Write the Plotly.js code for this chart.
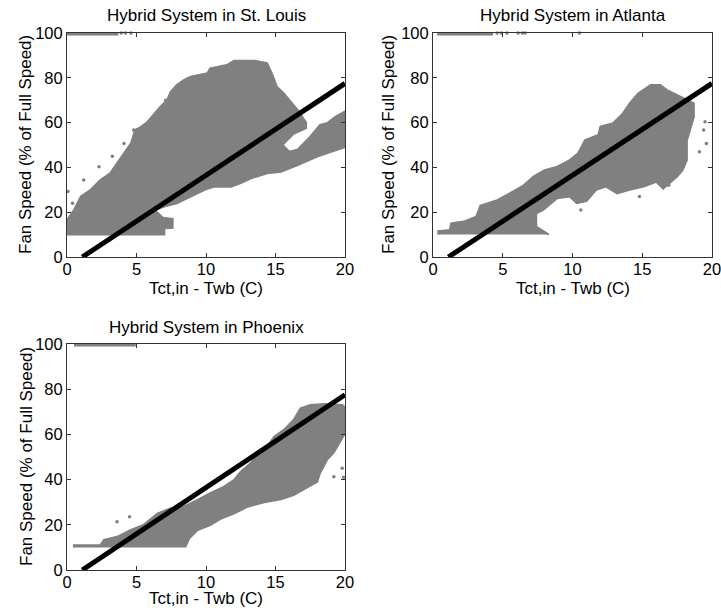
<!DOCTYPE html>
<html>
<head>
<meta charset="utf-8">
<script src="https://cdn.plot.ly/plotly-3.0.1.min.js"></script>
<style>html,body{margin:0;padding:0;background:#fff;}#chart{width:721px;height:613px;}</style>
</head>
<body>
<div id="chart"></div>
<script>
// ---------- data ----------
const xTicks = [0, 5, 10, 15, 20];
const yTicks = [0, 20, 40, 60, 80, 100];
const titles = ["Hybrid System in St. Louis", "Hybrid System in Atlanta", "Hybrid System in Phoenix"];
const xTitle = "Tct,in - Twb (C)";
const yTitle = "Fan Speed (% of Full Speed)";

// reference (design) line, same in all panels
const refLineX = [1.1, 20];
const refLineY = [0, 77.5];

// St. Louis: outline of the dense point cloud
const stlCloudX = [0, 7.0, 7.0, 7.6, 7.6, 6.9, 6.3, 7.0, 7.9, 8.9, 9.9, 10.6, 11.8, 12.5, 13.2, 14.4, 15.4, 16.6, 18.0, 19.0, 20,
  20, 19.3, 18.7, 18.2, 17.5, 16.6, 16.0, 15.5, 16.3, 17.2, 17.2, 16.6,
  15.6, 15.1, 14.8, 14.4, 13.5, 12.0, 11.5, 10.3, 10.1, 8.9, 8.4, 7.9, 7.46, 7.2, 6.7, 6.26, 5.8, 5.3, 4.9, 4.6, 4.1, 3.6, 3.1, 2.4, 1.7, 1.0, 0.5, 0];
const stlCloudY = [10, 10, 12.8, 13, 17, 17.5, 21, 22.5, 24, 27, 30, 31.4, 31.4, 33, 35, 37.4, 38, 41, 44.8, 47, 49,
  65, 62.6, 59.7, 59, 53.7, 48, 47, 50, 55, 57.5, 60, 65.6,
  73, 76, 81, 86.5, 87.6, 87.6, 85.7, 84.2, 82, 80.5, 79, 76.8, 73.8, 70, 67, 64, 60.4, 58, 56.7, 50.7, 46.3, 41.8, 37.4, 34.4, 30, 27, 21, 16.5];
const stlOutX = [0.07, 1.2, 2.3, 3.26, 4.1, 4.8, 7.1, 8.66, 0.4];
const stlOutY = [29.2, 34.4, 40.3, 45, 50.7, 56.7, 70, 79.3, 24];
const stlFullX = [0, 3.7];
const stlFullY = [100, 100];
const stlFullPtsX = [3.9, 4.2, 4.6];
const stlFullPtsY = [100, 100, 100];

// Atlanta
const atlCloudX = [0.38, 0.38, 1.2, 1.3, 2.2, 3.1, 3.4, 4.6, 5.5, 6.5, 7.2, 8.0, 8.9, 9.8, 10.4, 10.9, 11.85, 12.0, 12.9, 13.6, 14.1, 14.7, 15.6, 16.3, 16.75, 17.5, 18.2, 18.7,
  18.7, 18.4, 18.2, 18.2, 17.9, 17.5, 17.0, 16.5, 16.0, 15.1, 14.1, 13.2, 12.4, 11.7, 11.0, 10.3, 9.8, 8.9, 7.9, 7.4, 7.4, 8.3, 8.3];
const atlCloudY = [10, 11.5, 12, 15, 15.8, 18, 23, 25.4, 28.4, 32, 35.9, 38.8, 40.3, 43.3, 46.3, 52.2, 54.5, 58.2, 59.7, 64, 68.6, 73, 76.8, 76.8, 74.6, 72.3, 70, 68.6,
  62.6, 56.7, 52, 43.3, 38.8, 35.9, 33, 30.5, 33.6, 31.4, 30, 28.4, 31.4, 30, 25, 24, 27, 26.2, 21, 19.5, 13.6, 10.3, 10];
const atlOutX = [19.6, 19.4, 19.5, 14.8, 16.9, 19.1, 10.6];
const atlOutY = [50.7, 56.7, 60.4, 27, 32, 47, 21];
const atlFullX = [0.3, 4.3];
const atlFullY = [100, 100];
const atlFullPtsX = [4.6, 4.9, 5.3, 6.1, 6.4, 6.6, 10.5];
const atlFullPtsY = [100, 100, 100, 100, 100, 100, 100];

// Phoenix
const phxCloudX = [0.5, 0.5, 2.4, 2.66, 3.6, 4.6, 5.5, 6.5, 7.46, 8.4, 9.4, 10.3, 11.3, 12.0, 12.5, 13.2, 13.7, 14.4, 14.9, 15.6, 16.3, 16.8, 17.5, 18.5, 19.8, 20,
  20, 19.7, 19.45, 19.2, 18.7, 18.2, 18.0, 17.0, 16.3, 15.4, 14.2, 13.0, 12.0, 11.05, 10.3, 9.4, 8.8, 8.5];
const phxCloudY = [10, 11, 11, 13.3, 14.7, 17.7, 19.9, 25, 27.3, 28, 31, 34, 36.9, 39.8, 43.5, 47.2, 50.9, 54.6, 59, 62, 66.4, 71.5, 73, 73.5, 73, 72,
  60.5, 57.5, 54.6, 52, 48.7, 42.8, 39, 35.4, 33.2, 31.3, 30, 28, 25, 22.6, 19.9, 17.7, 14, 10];
const phxOutX = [3.6, 4.5, 19.8, 19.9, 19.2, 19.9, 19.9];
const phxOutY = [21.4, 23.6, 45, 41, 41.3, 67, 62];
const phxFullX = [0.5, 4.95];
const phxFullY = [100, 100];

// ---------- build traces ----------
const GRAY = "#808080";
function cloud(x, y, xa, ya) {
  return {x: x, y: y, xaxis: xa, yaxis: ya, type: "scatter", mode: "lines", fill: "toself",
    fillcolor: GRAY, line: {color: GRAY, width: 2}, hoverinfo: "skip", showlegend: false};
}
function pts(x, y, xa, ya) {
  return {x: x, y: y, xaxis: xa, yaxis: ya, type: "scatter", mode: "markers",
    marker: {symbol: "circle", size: 3.5, color: GRAY}, cliponaxis: false, hoverinfo: "skip", showlegend: false};
}
function band(x, y, xa, ya) {
  return {x: x, y: y, xaxis: xa, yaxis: ya, type: "scatter", mode: "lines",
    line: {color: GRAY, width: 5}, hoverinfo: "skip", showlegend: false};
}
function refLine(xa, ya) {
  return {x: refLineX, y: refLineY, xaxis: xa, yaxis: ya, type: "scatter", mode: "lines",
    line: {color: "#000", width: 5}, hoverinfo: "skip", showlegend: false};
}

const data = [
  band(stlFullX, stlFullY, "x", "y"), pts(stlFullPtsX, stlFullPtsY, "x", "y"),
  cloud(stlCloudX, stlCloudY, "x", "y"), pts(stlOutX, stlOutY, "x", "y"), refLine("x", "y"),
  band(atlFullX, atlFullY, "x2", "y2"), pts(atlFullPtsX, atlFullPtsY, "x2", "y2"),
  cloud(atlCloudX, atlCloudY, "x2", "y2"), pts(atlOutX, atlOutY, "x2", "y2"), refLine("x2", "y2"),
  band(phxFullX, phxFullY, "x3", "y3"),
  cloud(phxCloudX, phxCloudY, "x3", "y3"), pts(phxOutX, phxOutY, "x3", "y3"), refLine("x3", "y3")
];

const FONT = "Arial, 'Liberation Sans', sans-serif";
const TICKSIZE = 16.5;
const TITLESIZE = 17;
function xaxis(domain, anchor) {
  return {domain: domain, anchor: anchor, range: [0, 20], tickvals: xTicks, ticks: "inside", ticklen: 4,
    tickcolor: "#333", showline: true, linecolor: "#333", linewidth: 1, mirror: "ticks",
    showgrid: false, zeroline: false, ticklabeloverflow: "allow", ticklabelstandoff: -3,
    tickfont: {family: FONT, size: TICKSIZE, color: "#000"}};
}
function yaxis(domain, anchor) {
  return {domain: domain, anchor: anchor, range: [0, 100], tickvals: yTicks, ticks: "inside", ticklen: 4,
    tickcolor: "#333", showline: true, linecolor: "#333", linewidth: 1, mirror: "ticks",
    showgrid: false, zeroline: false, ticklabeloverflow: "allow",
    tickfont: {family: FONT, size: TICKSIZE, color: "#000"}};
}

const W = 721, H = 613;
const colL = [67 / W, 345 / W];
const colR = [433 / W, 712 / W];
const rowT = [1 - 257 / H, 1 - 33 / H];
const rowB = [1 - 570 / H, 1 - 344 / H];

function ann(text, x, y, xanchor, yanchor, angle) {
  return {text: text, xref: "paper", yref: "paper", x: x, y: y, xanchor: xanchor, yanchor: yanchor,
    textangle: angle || 0, showarrow: false, font: {family: FONT, size: TITLESIZE, color: "#000"}};
}
const midL = (colL[0] + colL[1]) / 2, midR = (colR[0] + colR[1]) / 2;
const midT = (rowT[0] + rowT[1]) / 2, midB = (rowB[0] + rowB[1]) / 2;

const layout = {
  width: W, height: H,
  margin: {l: 0, r: 0, t: 0, b: 0},
  paper_bgcolor: "#fff", plot_bgcolor: "#fff",
  showlegend: false,
  font: {family: FONT, color: "#000"},
  xaxis: xaxis(colL, "y"), yaxis: yaxis(rowT, "x"),
  xaxis2: xaxis(colR, "y2"), yaxis2: yaxis(rowT, "x2"),
  xaxis3: xaxis(colL, "y3"), yaxis3: yaxis(rowB, "x3"),
  annotations: [
    // subplot titles
    ann(titles[0], midL, 1 - 15 / H, "center", "middle"),
    ann(titles[1], midR, 1 - 15 / H, "center", "middle"),
    ann(titles[2], midL, 1 - 327 / H, "center", "middle"),
    // x axis titles
    ann(xTitle, midL, 1 - 288 / H, "center", "middle"),
    ann(xTitle, midR, 1 - 288 / H, "center", "middle"),
    ann(xTitle, midL, 1 - 598 / H, "center", "middle"),
    // y axis titles
    ann(yTitle, 26 / W, midT, "center", "middle", -90),
    ann(yTitle, 389 / W, midT, "center", "middle", -90),
    ann(yTitle, 26 / W, midB, "center", "middle", -90)
  ]
};

Plotly.newPlot("chart", data, layout, {displayModeBar: false, staticPlot: true});
</script>
</body>
</html>
